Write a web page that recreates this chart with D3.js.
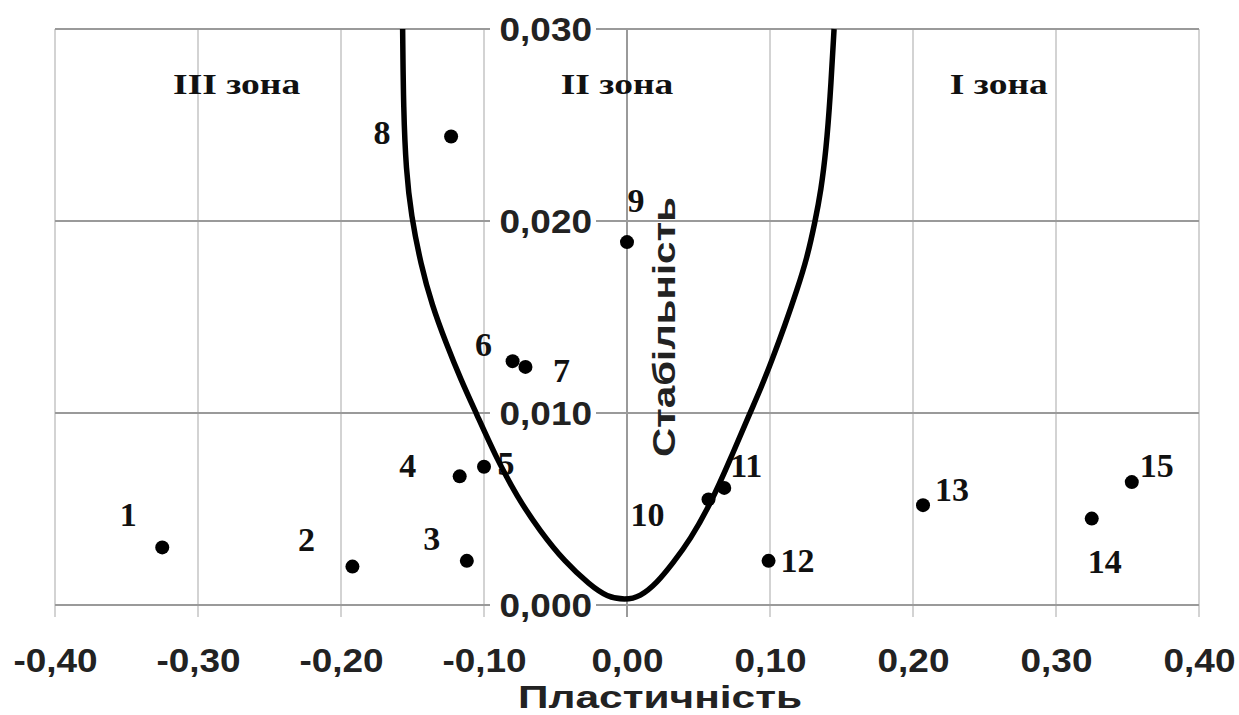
<!DOCTYPE html>
<html>
<head>
<meta charset="utf-8">
<script src="https://cdn.jsdelivr.net/npm/d3@7"></script>
<style>
  body { margin: 0; background: #fff; }
  svg { display: block; }
</style>
</head>
<body>
<div id="chart"></div>
<script>
// data
const pointIds = ['1', '2', '3', '4', '5', '6', '7', '8', '9', '10', '11', '12', '13', '14', '15']
const plasticity = [-0.325, -0.192, -0.112, -0.117, -0.100, -0.080, -0.071, -0.123, 0.000, 0.057, 0.068, 0.099, 0.207, 0.325, 0.353]
const stability = [0.0030, 0.0020, 0.0023, 0.0067, 0.0072, 0.0127, 0.0124, 0.0244, 0.0189, 0.0055, 0.0061, 0.0023, 0.0052, 0.0045, 0.0064]

// boundary curve (zone II), from the top left down to the vertex and up again
const boundaryX = [-0.1569, -0.1563, -0.1545, -0.151, -0.1441, -0.1364, -0.1266, -0.1161, -0.1049, -0.0923, -0.0769,
  -0.0608, -0.0434, -0.0259, -0.014, -0.0014, 0.0091, 0.021, 0.0322, 0.0441, 0.0587, 0.072, 0.086, 0.0937, 0.1014,
  0.1105, 0.1189, 0.1259, 0.1315, 0.1357, 0.1392, 0.142, 0.1448]
const boundaryY = [0.0300, 0.02578, 0.02266, 0.02031, 0.01771, 0.01563, 0.01365, 0.01172, 0.0099, 0.00781, 0.00563,
  0.00385, 0.00224, 0.00104, 0.00042, 0.00026, 0.00042, 0.00115, 0.00219, 0.00339, 0.00531, 0.00755, 0.0100, 0.0113, 0.01276,
  0.01458, 0.01641, 0.01807, 0.01995, 0.02161, 0.0237, 0.0263, 0.0300]

const xTicks = [-0.4, -0.3, -0.2, -0.1, 0, 0.1, 0.2, 0.3, 0.4]
const yTicks = [0, 0.01, 0.02, 0.03]

const zoneNames = ['III зона', 'II зона', 'I зона']
const zoneX = [-0.273, -0.007, 0.260]
const zoneY = 0.0266

const xTitle = 'Пластичність'
const yTitle = 'Стабільність'

// label placement next to each point, in pixels
const labelDx = [-34, -46, -35, -52, 22, -29, 36, -69, 9, -61, 22, 29, 29, 13, 25]
const labelDy = [-21, -16, -11, 1, 8, -5, 15, 7, -30, 27, -11, 11, -4, 54, -5]

const W = 1239
const H = 715

const svg = d3.select('#chart').append('svg')
  .attr('width', W)
  .attr('height', H)

svg.append('rect').attr('width', W).attr('height', H).attr('fill', '#fff')

const x = d3.scaleLinear().domain([-0.4, 0.4]).range([55, 1199])
const y = d3.scaleLinear().domain([0, 0.03]).range([605, 29])

const fmt = (d, n) => d3.format('.' + n + 'f')(d).replace('.', ',').replace('−', '-')

const sans = 'Liberation Sans, Arial, sans-serif'
const serif = 'Liberation Serif, Times New Roman, serif'

// vertical grid
svg.append('g')
  .selectAll('line')
  .data(xTicks)
  .join('line')
  .attr('x1', d => x(d))
  .attr('x2', d => x(d))
  .attr('y1', y(0.03))
  .attr('y2', y(0) + 12)
  .attr('stroke', d => d === 0 ? '#9a9a9a' : '#c4c4c4')
  .attr('stroke-width', d => d === 0 ? 2 : 1.5)

// horizontal grid
svg.append('g')
  .selectAll('line')
  .data(yTicks)
  .join('line')
  .attr('x1', x(-0.4))
  .attr('x2', x(0.4))
  .attr('y1', d => y(d))
  .attr('y2', d => y(d))
  .attr('stroke', '#9a9a9a')
  .attr('stroke-width', 2)

// x axis labels
const xAxis = svg.append('g')
  .attr('transform', `translate(0,${y(0)})`)
  .call(d3.axisBottom(x).tickValues(xTicks).tickSize(0).tickPadding(0).tickFormat(d => fmt(d, 2)))
xAxis.select('.domain').remove()
xAxis.selectAll('text')
  .attr('y', 67)
  .attr('dy', null)
  .attr('transform', 'scale(1.12,1)')
  .attr('fill', '#222')
  .style('font-family', sans)
  .style('font-weight', 'bold')
  .style('font-size', '33px')

// y axis labels on the zero line, with a white box behind
const yAxis = svg.append('g')
  .attr('transform', `translate(${x(0) - 35},0)`)
  .call(d3.axisLeft(y).tickValues(yTicks).tickSize(0).tickPadding(0).tickFormat(d => fmt(d, 3)))
yAxis.select('.domain').remove()
yAxis.selectAll('.tick').insert('rect', 'text')
  .attr('x', -102)
  .attr('y', -15)
  .attr('width', 106)
  .attr('height', 30)
  .attr('fill', '#fff')
yAxis.selectAll('text')
  .attr('x', 0)
  .attr('dy', '0.36em')
  .attr('transform', 'scale(1.12,1)')
  .attr('text-anchor', 'end')
  .attr('fill', '#222')
  .style('font-family', sans)
  .style('font-weight', 'bold')
  .style('font-size', '33px')

// zone names
svg.append('g')
  .selectAll('text')
  .data(zoneNames)
  .join('text')
  .attr('transform', (d, i) => `translate(${x(zoneX[i])},${y(zoneY)}) scale(1.25,1)`)
  .attr('text-anchor', 'middle')
  .attr('font-family', serif)
  .attr('font-weight', 'bold')
  .attr('font-size', 30)
  .attr('fill', '#111')
  .text(d => d)

// point numbers
svg.append('g')
  .selectAll('text')
  .data(pointIds)
  .join('text')
  .attr('x', (d, i) => x(plasticity[i]) + labelDx[i])
  .attr('y', (d, i) => y(stability[i]) + labelDy[i])
  .attr('text-anchor', 'middle')
  .attr('font-family', serif)
  .attr('font-weight', 'bold')
  .attr('font-size', 34)
  .attr('fill', '#111')
  .text(d => d)

// boundary curve
const line = d3.line()
  .x(d => x(d[0]))
  .y(d => y(d[1]))
  .curve(d3.curveBasis)

svg.append('path')
  .datum(d3.zip(boundaryX, boundaryY))
  .attr('fill', 'none')
  .attr('stroke', '#000')
  .attr('stroke-width', 5.5)
  .attr('d', line)

// points
svg.append('g')
  .selectAll('circle')
  .data(pointIds)
  .join('circle')
  .attr('cx', (d, i) => x(plasticity[i]))
  .attr('cy', (d, i) => y(stability[i]))
  .attr('r', 7)
  .attr('fill', '#000')

// axis titles
svg.append('text')
  .attr('x', 660)
  .attr('y', 708)
  .attr('text-anchor', 'middle')
  .attr('textLength', 284)
  .attr('lengthAdjust', 'spacingAndGlyphs')
  .attr('font-family', sans)
  .attr('font-weight', 'bold')
  .attr('font-size', 32)
  .attr('fill', '#222')
  .text(xTitle)

svg.append('text')
  .attr('transform', `translate(${x(0) + 48},327) rotate(-90)`)
  .attr('text-anchor', 'middle')
  .attr('textLength', 260)
  .attr('lengthAdjust', 'spacingAndGlyphs')
  .attr('font-family', sans)
  .attr('font-weight', 'bold')
  .attr('font-size', 32)
  .attr('fill', '#222')
  .text(yTitle)
</script>
</body>
</html>
